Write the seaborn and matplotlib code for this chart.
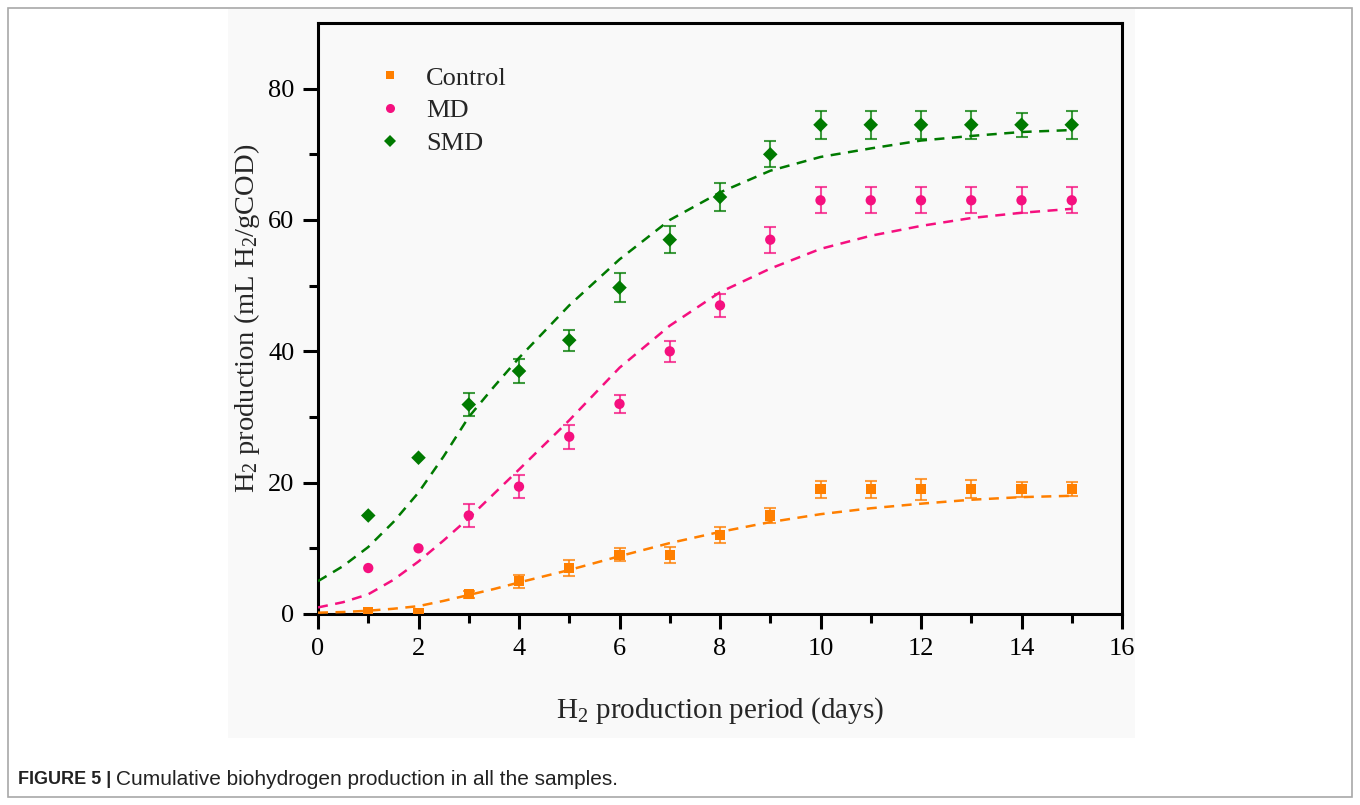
import numpy as np
import pandas as pd
import matplotlib
matplotlib.use("Agg")
import matplotlib.pyplot as plt
import seaborn as sns
from matplotlib.patches import Rectangle
from matplotlib.lines import Line2D

# ---------------- data ----------------
days = [1, 2, 3, 4, 5, 6, 7, 8, 9, 10, 11, 12, 13, 14, 15]
control = [0.3, 0.15, 3.0, 5.0, 7.0, 9.0, 9.0, 12.0, 15.0, 19.0, 19.0, 19.0, 19.0, 19.0, 19.0]
control_err = [0.0, 0.0, 0.5, 1.0, 1.2, 1.0, 1.2, 1.2, 1.2, 1.3, 1.3, 1.6, 1.4, 1.15, 1.1]
md = [7.0, 10.0, 15.0, 19.4, 27.0, 32.0, 40.0, 47.0, 57.0, 63.0, 63.0, 63.0, 63.0, 63.0, 63.0]
md_err = [0.0, 0.0, 1.7, 1.7, 1.8, 1.4, 1.6, 1.8, 2.0, 2.0, 2.0, 2.0, 2.0, 2.0, 2.0]
smd = [15.0, 23.8, 31.9, 37.0, 41.7, 49.7, 57.0, 63.5, 70.0, 74.5, 74.5, 74.5, 74.5, 74.5, 74.5]
smd_err = [0.0, 0.0, 1.7, 1.8, 1.6, 2.2, 2.1, 2.1, 2.0, 2.1, 2.1, 2.1, 2.1, 1.8, 2.1]

# fitted curves
fit_days = [0, 0.5, 1, 1.5, 2, 2.5, 3, 3.5, 4, 5, 6, 7, 8, 9, 10, 11, 12, 13, 14, 15]
control_fit = [0.2, 0.3, 0.5, 0.8, 1.2, 2.0, 2.9, 3.8, 4.8, 6.7, 8.8, 10.8, 12.5, 14.0, 15.2, 16.1, 16.8, 17.4, 17.8, 18.0]
md_fit = [1.0, 1.8, 3.0, 5.2, 8.0, 11.2, 14.6, 18.3, 22.0, 29.5, 37.5, 43.9, 49.0, 52.6, 55.6, 57.6, 59.1, 60.3, 61.1, 61.7]
smd_fit = [5.0, 7.3, 10.2, 14.0, 18.5, 24.0, 30.0, 34.6, 39.0, 47.0, 54.0, 60.0, 64.2, 67.5, 69.6, 70.9, 72.1, 72.8, 73.4, 73.7]

samples = ["Control", "MD", "SMD"]
colors = {"Control": "#FF7F00", "MD": "#F5107F", "SMD": "#007A00"}
markers = {"Control": "s", "MD": "o", "SMD": "D"}

pts = pd.DataFrame({
    "day": days * 3,
    "value": control + md + smd,
    "err": control_err + md_err + smd_err,
    "sample": ["Control"] * len(days) + ["MD"] * len(days) + ["SMD"] * len(days),
})
fits = pd.DataFrame({
    "day": fit_days * 3,
    "value": control_fit + md_fit + smd_fit,
    "sample": ["Control"] * len(fit_days) + ["MD"] * len(fit_days) + ["SMD"] * len(fit_days),
})

# ---------------- figure ----------------
sns.set_theme(style="white")
plt.rcParams["font.family"] = ["Liberation Serif", "DejaVu Serif"]
plt.rcParams["mathtext.fontset"] = "custom"
plt.rcParams["mathtext.rm"] = "Liberation Serif"
plt.rcParams["mathtext.it"] = "Liberation Serif:italic"

fig = plt.figure(figsize=(13.6, 8.05), dpi=100)
fig.patch.set_facecolor("white")
W, H = 1360, 805
# panel background
fig.patches.append(Rectangle((228 / W, 1 - 738 / H), (1135 - 228) / W, (738 - 9) / H,
                             transform=fig.transFigure, facecolor="#f9f9f9",
                             edgecolor="none", zorder=-5))
# figure frame
fig.patches.append(Rectangle((8 / W, 1 - 797 / H), (1352 - 8) / W, (797 - 8) / H,
                             transform=fig.transFigure, facecolor="none",
                             edgecolor="#a8a8a8", linewidth=1.2, zorder=-4))

ax = fig.add_axes([318 / W, 1 - 614 / H, (1122 - 318) / W, (614 - 23) / H])
ax.set_facecolor("#f9f9f9")

# fitted curves (dashed)
sns.lineplot(data=fits, x="day", y="value", hue="sample", palette=colors,
             hue_order=samples, ax=ax, legend=False, linewidth=1.8,
             dashes=False, zorder=3)
for line in ax.get_lines():
    line.set_linestyle((0, (4, 3)))

# error bars
for s in samples:
    sub = pts[pts["sample"] == s]
    m = sub["err"] > 0
    ax.errorbar(sub["day"][m], sub["value"][m], yerr=sub["err"][m], fmt="none",
                ecolor=colors[s], alpha=0.75, elinewidth=1.5, capsize=4.5,
                capthick=1.5, zorder=2)

# data points
sns.scatterplot(data=pts, x="day", y="value", hue="sample", style="sample",
                palette=colors, markers=markers, hue_order=samples,
                style_order=samples, s=55, linewidth=0, ax=ax, legend=False,
                zorder=4)

ax.set_xlim(0, 16)
ax.set_ylim(0, 90)
ax.set_xticks(np.arange(0, 17, 2))
ax.set_xticks(np.arange(1, 16, 2), minor=True)
ax.set_yticks(np.arange(0, 81, 20))
ax.set_yticks(np.arange(10, 80, 20), minor=True)
ax.tick_params(axis="both", which="major", direction="out", length=11, width=2.2,
               labelsize=19, color="black", labelcolor="black", pad=6)
ax.tick_params(axis="both", which="minor", direction="out", length=6.5, width=2.2,
               color="black")
ax.tick_params(top=False, right=False, bottom=True, left=True, which="both")
for sp in ax.spines.values():
    sp.set_visible(True)
    sp.set_linewidth(2.2)
    sp.set_color("black")

ax.set_xlabel(r"$\mathregular{H_2}$ production period (days)", fontsize=21, labelpad=26)
ax.set_ylabel(r"$\mathregular{H_2}$ production (mL $\mathregular{H_2}$/gCOD)", fontsize=20.5, labelpad=4)

handles = [Line2D([], [], linestyle="none", marker=markers[s], color=colors[s],
                  markersize=6.5 if s != "Control" else 6, markeredgewidth=0)
           for s in samples]
ax.legend(handles, samples, loc="upper left", bbox_to_anchor=(0.044, 0.967),
          frameon=False, fontsize=19, handletextpad=0.85, labelspacing=0.35,
          handlelength=1.0)

cap_family = ["Liberation Sans", "DejaVu Sans"]
t1 = fig.text(18 / W, 1 - 779 / H, "FIGURE 5 |", fontsize=13, fontweight="bold",
              family=cap_family, va="center", ha="left", color="#222222")
fig.canvas.draw()
bb = t1.get_window_extent(renderer=fig.canvas.get_renderer())
fig.text((bb.x1 + 5) / W, 1 - 779 / H, "Cumulative biohydrogen production in all the samples.",
         fontsize=15, family=cap_family, va="center", ha="left", color="#222222")

fig.savefig("out.png", dpi=100)
